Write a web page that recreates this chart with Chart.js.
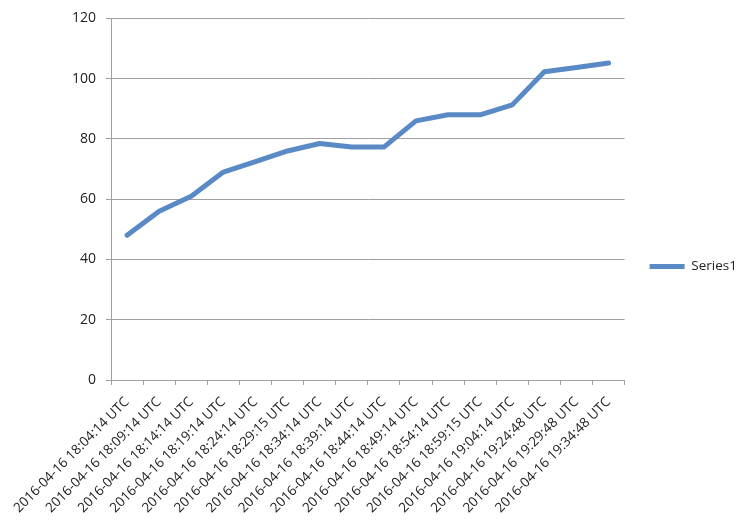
<!DOCTYPE html>
<html>
<head>
<meta charset="utf-8">
<script src="https://cdn.jsdelivr.net/npm/chart.js@4.4.0/dist/chart.umd.min.js"></script>
<style>
  html, body { margin: 0; padding: 0; background: #fff; }
  #wrap { width: 750px; height: 524px; }
</style>
</head>
<body>
<div id="wrap"><canvas id="myChart"></canvas></div>
<script>
const labels = [
  '2016-04-16 18:04:14 UTC', '2016-04-16 18:09:14 UTC', '2016-04-16 18:14:14 UTC',
  '2016-04-16 18:19:14 UTC', '2016-04-16 18:24:14 UTC', '2016-04-16 18:29:15 UTC',
  '2016-04-16 18:34:14 UTC', '2016-04-16 18:39:14 UTC', '2016-04-16 18:44:14 UTC',
  '2016-04-16 18:49:14 UTC', '2016-04-16 18:54:14 UTC', '2016-04-16 18:59:15 UTC',
  '2016-04-16 19:04:14 UTC', '2016-04-16 19:24:48 UTC', '2016-04-16 19:29:48 UTC',
  '2016-04-16 19:34:48 UTC'
];
const series1 = [48, 56, 61, 69, 72.5, 76, 78.5, 77.3, 77.3, 86, 88, 88, 91.3, 102.3, 103.7, 105.2];
const yTicks = [0, 20, 40, 60, 80, 100, 120];

const font = { family: 'Open Sans', size: 13.5 };

new Chart(document.getElementById('myChart'), {
    type: 'line',
    data: {
        labels: labels,
        datasets: [{
            label: 'Series1',
            data: series1,
            borderColor: '#5A8AC6',
            backgroundColor: '#5A8AC6',
            borderWidth: 5,
            pointRadius: 0,
            tension: 0,
            borderCapStyle: 'round',
            borderJoinStyle: 'round'
        }]
    },
    options: {
        responsive: true,
        maintainAspectRatio: false,
        animation: false,
        layout: { padding: { top: 9, left: 0, right: 3, bottom: 0 } },
        plugins: {
            tooltip: { enabled: false },
            legend: {
                position: 'right',
                labels: {
                    usePointStyle: true,
                    pointStyle: 'line',
                    pointStyleWidth: 35,
                    padding: 25,
                    color: '#222',
                    font: font
                }
            }
        },
        scales: {
            x: {
                offset: true,
                afterFit: s => { s.height = 144; },
                grid: {
                    display: true,
                    offset: true,
                    drawOnChartArea: false,
                    tickLength: 5,
                    color: '#a0a0a0'
                },
                border: { color: '#a0a0a0' },
                ticks: {
                    minRotation: 45,
                    maxRotation: 45,
                    autoSkip: false,
                    color: '#222',
                    font: font,
                    padding: 9
                }
            },
            y: {
                min: 0,
                max: 120,
                afterFit: s => { s.width = 111; },
                afterBuildTicks: s => { s.ticks = yTicks.map(v => ({ value: v })); },
                grid: { color: '#a0a0a0', tickLength: 5 },
                border: { color: '#a0a0a0' },
                ticks: { color: '#222', font: { family: 'Open Sans', size: 14 }, padding: 10 }
            }
        }
    }
});
</script>
</body>
</html>
